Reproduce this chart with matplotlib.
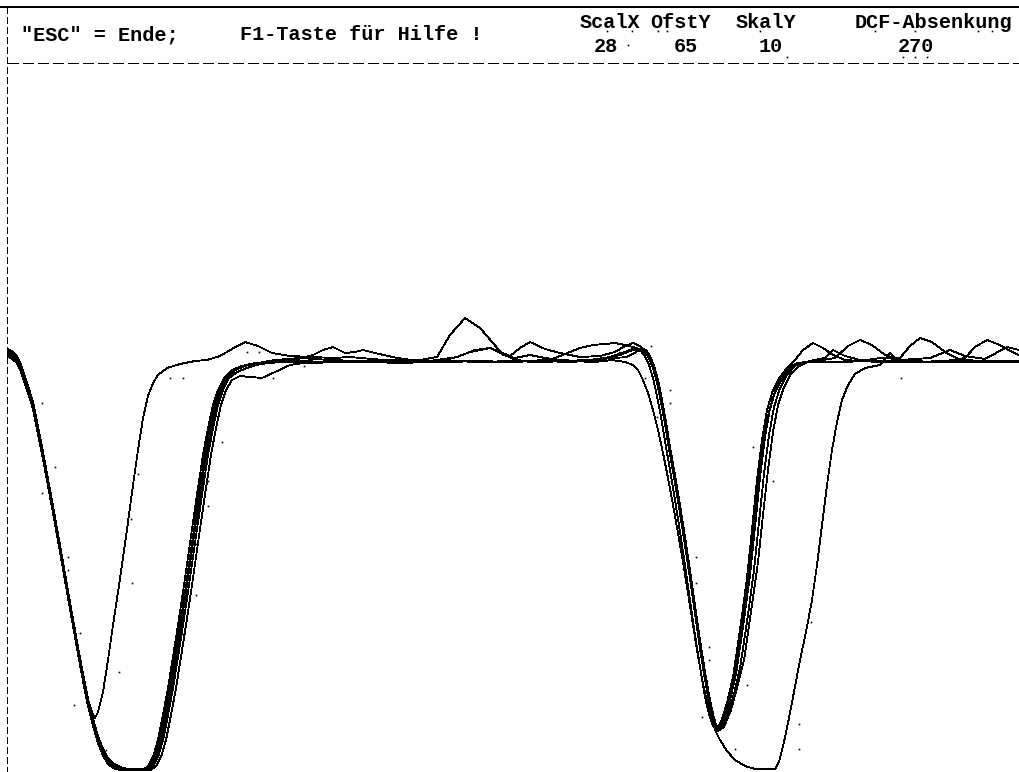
import matplotlib
matplotlib.use("Agg")
import matplotlib.pyplot as plt

# ---------------- data (screen units) ----------------
header_left = ['"ESC" = Ende;', 'F1-Taste für Hilfe !']
header_labels = ["ScalX", "OfstY", "SkalY", "DCF-Absenkung"]
header_values = ["28", "65", "10", "270"]

trace_a = [(8,350),(12,352),(16,356),(20,363),(25,378),(29,390),(33,403),(38,428),(43,453),(48,480),(53,507),(58,535),(63,563),(68,592),(73,620),(78,648),(83,675),(88,700),(92,712),(95,718),(98,712),(103,692),(108,660),(113,625),(118,592),(123,558),(128,522),(133,485),(138,450),(143,418),(148,396),(153,383),(158,375),(167,368),(180,364),(195,361),(207,360),(220,356),(232,349),(245,342),(258,346),(272,353),(290,356),(313,357),(333,358),(350,357),(372,359),(397,361),(420,360),(437,357),(450,335),(465,318),(480,328),(493,343),(503,355),(515,358),(530,355),(545,358),(560,360),(580,361),(600,359),(615,358),(627,357),(636,352),(642,348),(646,350),(650,356),(654,366),(658,380),(662,400),(666,422),(670,447),(675,475),(680,505),(685,537),(690,570),(695,605),(700,640),(705,672),(710,700),(714,718),(717,728),(721,722),(727,703),(733,677),(740,630),(747,578),(752,530),(757,480),(762,440),(767,410),(773,390),(780,377),(787,368),(795,360),(803,350),(813,343),(823,348),(833,355),(845,360),(860,361),(880,362),(900,361),(920,362),(940,361),(960,362),(980,362),(1000,361),(1019,362)]

trace_b = [(8,352),(12,354),(16,358),(20,365),(25,380),(29,392),(33,405),(38,430),(43,455),(48,482),(53,509),(58,537),(63,565),(68,594),(73,622),(78,650),(83,677),(88,702),(93,722),(98,739),(103,752),(108,760),(113,765),(120,768),(127,770),(143,770),(148,766),(153,757),(158,740),(163,715),(168,688),(173,657),(178,625),(183,592),(188,557),(193,522),(198,488),(203,455),(208,428),(213,405),(218,390),(224,378),(232,370),(242,366),(255,363),(270,362),(290,361),(313,355),(323,350),(333,347),(345,353),(355,352),(363,350),(375,353),(397,358),(420,361),(450,362),(480,361),(510,362),(540,361),(570,362),(600,360),(620,355),(633,350),(641,351),(648,356),(652,363),(656,375),(660,392),(664,414),(668,438),(673,466),(678,496),(683,528),(688,561),(693,596),(698,631),(703,664),(708,694),(712,713),(716,726),(720,727),(725,718),(730,700),(736,674),(743,627),(750,575),(755,527),(760,477),(765,437),(770,408),(776,388),(783,375),(790,367),(797,363),(810,362),(835,358),(848,346),(860,340),(872,345),(885,355),(900,360),(930,362),(960,361),(990,362),(1019,361)]

trace_c = [(8,353),(12,355),(16,359),(20,366),(25,381),(29,393),(33,406),(38,431),(43,456),(48,483),(53,510),(58,538),(63,566),(68,595),(73,623),(78,651),(83,678),(88,703),(93,723),(98,740),(103,753),(108,761),(113,766),(120,769),(127,770),(146,770),(151,766),(156,757),(161,740),(166,715),(171,688),(176,657),(181,625),(186,592),(191,557),(196,522),(201,488),(206,455),(211,428),(216,405),(221,390),(227,378),(235,370),(245,366),(258,363),(275,360),(300,358),(330,360),(360,361),(390,360),(420,361),(445,360),(457,357),(470,352),(490,348),(500,352),(510,356),(520,348),(530,342),(545,349),(560,353),(580,357),(600,356),(615,352),(625,346),(633,343),(640,346),(645,352),(649,358),(653,368),(657,382),(661,402),(665,424),(669,449),(674,477),(679,507),(684,539),(689,572),(694,607),(699,642),(704,674),(709,702),(713,720),(717,729),(722,728),(728,714),(734,694),(740,668),(747,622),(754,570),(759,522),(764,474),(769,435),(774,407),(780,388),(787,375),(795,366),(803,362),(830,362),(860,361),(880,358),(900,358),(910,346),(920,338),(932,342),(945,352),(960,360),(990,361),(1019,362)]

trace_d = [(8,355),(12,357),(16,360),(20,367),(25,382),(29,394),(33,407),(38,432),(43,457),(48,484),(53,511),(58,539),(63,567),(68,596),(73,624),(78,652),(83,679),(88,704),(93,724),(98,741),(103,754),(108,762),(113,767),(120,769),(127,770),(148,770),(153,766),(158,757),(163,740),(168,715),(173,688),(178,657),(183,625),(188,592),(193,557),(198,522),(203,488),(208,455),(213,428),(218,405),(223,390),(229,378),(237,372),(247,368),(260,364),(280,362),(310,363),(340,362),(370,362),(400,363),(430,362),(460,361),(490,362),(520,361),(550,360),(570,352),(580,348),(593,345),(605,344),(615,343),(625,345),(633,347),(640,350),(645,356),(649,365),(653,378),(657,396),(661,417),(665,441),(670,470),(675,500),(680,532),(685,565),(690,600),(695,635),(700,667),(705,697),(709,714),(713,726),(718,731),(724,727),(731,710),(737,688),(744,660),(751,612),(758,562),(763,515),(768,470),(773,432),(778,405),(784,387),(791,374),(799,366),(808,362),(840,362),(870,361),(900,362),(940,362),(965,358),(975,347),(987,340),(1000,345),(1012,352),(1019,355)]

trace_e = [(8,357),(12,359),(16,362),(20,369),(25,384),(29,396),(33,409),(38,434),(43,459),(48,486),(53,513),(58,541),(63,569),(68,598),(73,626),(78,654),(83,681),(88,706),(93,726),(98,743),(103,756),(108,764),(113,768),(120,770),(130,770),(151,770),(156,766),(161,757),(166,740),(171,715),(176,688),(181,657),(186,625),(191,592),(196,557),(201,522),(206,488),(211,455),(216,428),(221,405),(226,390),(232,380),(240,376),(250,377),(262,378),(275,372),(290,365),(310,362),(340,361),(370,362),(400,360),(430,361),(457,357),(475,350),(490,348),(505,355),(515,360),(540,362),(560,361),(590,360),(610,357),(625,352),(635,348),(641,349),(646,353),(650,360),(654,371),(658,386),(662,406),(666,428),(670,452),(675,481),(680,511),(685,543),(690,577),(695,612),(700,646),(705,677),(710,704),(714,720),(718,729),(722,724),(728,707),(734,682),(741,636),(748,584),(753,536),(758,486),(763,446),(768,416),(774,395),(781,381),(788,371),(796,364),(810,361),(825,358),(833,350),(845,356),(860,360),(880,361),(900,360),(930,358),(950,350),(965,356),(985,359),(1007,347),(1019,350)]

trace_f = [(8,349),(12,351),(16,355),(20,362),(25,377),(29,389),(33,402),(38,427),(43,452),(48,479),(53,506),(58,534),(63,562),(68,591),(73,619),(78,647),(83,674),(88,699),(93,719),(98,736),(103,749),(108,758),(113,763),(120,767),(127,769),(145,769),(150,766),(155,757),(160,740),(165,715),(170,688),(175,657),(180,625),(185,592),(190,557),(195,522),(200,488),(205,455),(210,428),(215,405),(220,390),(226,378),(234,370),(244,366),(257,363),(275,362),(300,361),(330,362),(360,361),(390,362),(420,362),(450,361),(480,362),(510,361),(540,362),(570,361),(595,362),(612,360),(625,362),(633,365),(638,370),(643,380),(648,393),(653,410),(658,430),(663,453),(668,478),(673,505),(678,533),(683,562),(688,593),(693,625),(698,656),(703,684),(708,706),(712,721),(716,732),(720,740),(727,751),(735,760),(745,766),(755,769),(775,769),(779,762),(784,742),(789,718),(794,692),(800,660),(806,632),(812,600),(817,565),(822,525),(827,485),(832,450),(837,422),(842,400),(848,385),(855,374),(865,368),(880,365),(890,353),(898,362),(910,361),(940,362),(970,361),(1000,362),(1019,362)]

traces = [trace_a, trace_b, trace_c, trace_d, trace_e, trace_f]

dots_x = [42, 55, 42, 68, 68, 80, 74, 106, 119, 132, 131, 138, 170, 183, 222, 208, 208, 196, 196, 183, 247, 259, 260, 273, 304,
          670, 670, 657, 671, 696, 683, 696, 709, 709, 702, 735, 747, 747, 759, 773, 753, 773, 799, 799, 811, 901, 645, 619, 651,
          607, 632, 658, 667, 760, 628, 787, 875, 915, 978, 992, 903, 915, 927]
dots_y = [403, 467, 493, 557, 570, 633, 705, 750, 672, 583, 519, 474, 378, 378, 442, 481, 506, 544, 595, 634, 352, 352, 378, 378, 366,
          390, 403, 417, 481, 557, 569, 583, 647, 660, 717, 749, 685, 622, 518, 481, 447, 428, 724, 749, 622, 378, 378, 352, 346,
          31, 31, 31, 31, 31, 45, 57, 31, 31, 31, 31, 57, 57, 57]

# ---------------- drawing ----------------
W, H = 1019, 772
fig = plt.figure(figsize=(W / 100, H / 100), dpi=100)
ax = fig.add_axes([0, 0, 1, 1])
ax.set_xlim(0, W)
ax.set_ylim(H, 0)
ax.axis("off")
fig.patch.set_facecolor("white")

# frame: top solid line, left dashed line, dashed separator
ax.plot([0, W], [7, 7], color="black", lw=1.4, solid_capstyle="butt", antialiased=False)
ax.plot([7, 7], [7, H], color="black", lw=0.72, dashes=(6, 4), antialiased=False)
ax.plot([8, W], [63, 63], color="black", lw=0.9, dashes=(8, 3.5), antialiased=False)

font = dict(family="Liberation Mono", weight="bold", size=14.5, color="black", va="center")
ax.text(100, 35, header_left[0], ha="center", **font)
ax.text(361, 35, header_left[1], ha="center", **font)
label_cx = [610, 681, 766, 933]
value_cx = [606, 686, 771, 916]
for lab, cx in zip(header_labels, label_cx):
    ax.text(cx, 22, lab, ha="center", **font)
for val, cx in zip(header_values, value_cx):
    ax.text(cx, 46, val, ha="center", **font)

for tr in traces:
    xs = [p[0] for p in tr]
    ys = [p[1] for p in tr]
    ax.plot(xs, ys, color="black", lw=0.6, antialiased=False, solid_joinstyle="round")

ax.plot(dots_x, dots_y, linestyle="none", marker="s", markersize=1.2, color="black",
        markeredgewidth=0, antialiased=False)

fig.savefig("out.png", dpi=100, facecolor="white")
